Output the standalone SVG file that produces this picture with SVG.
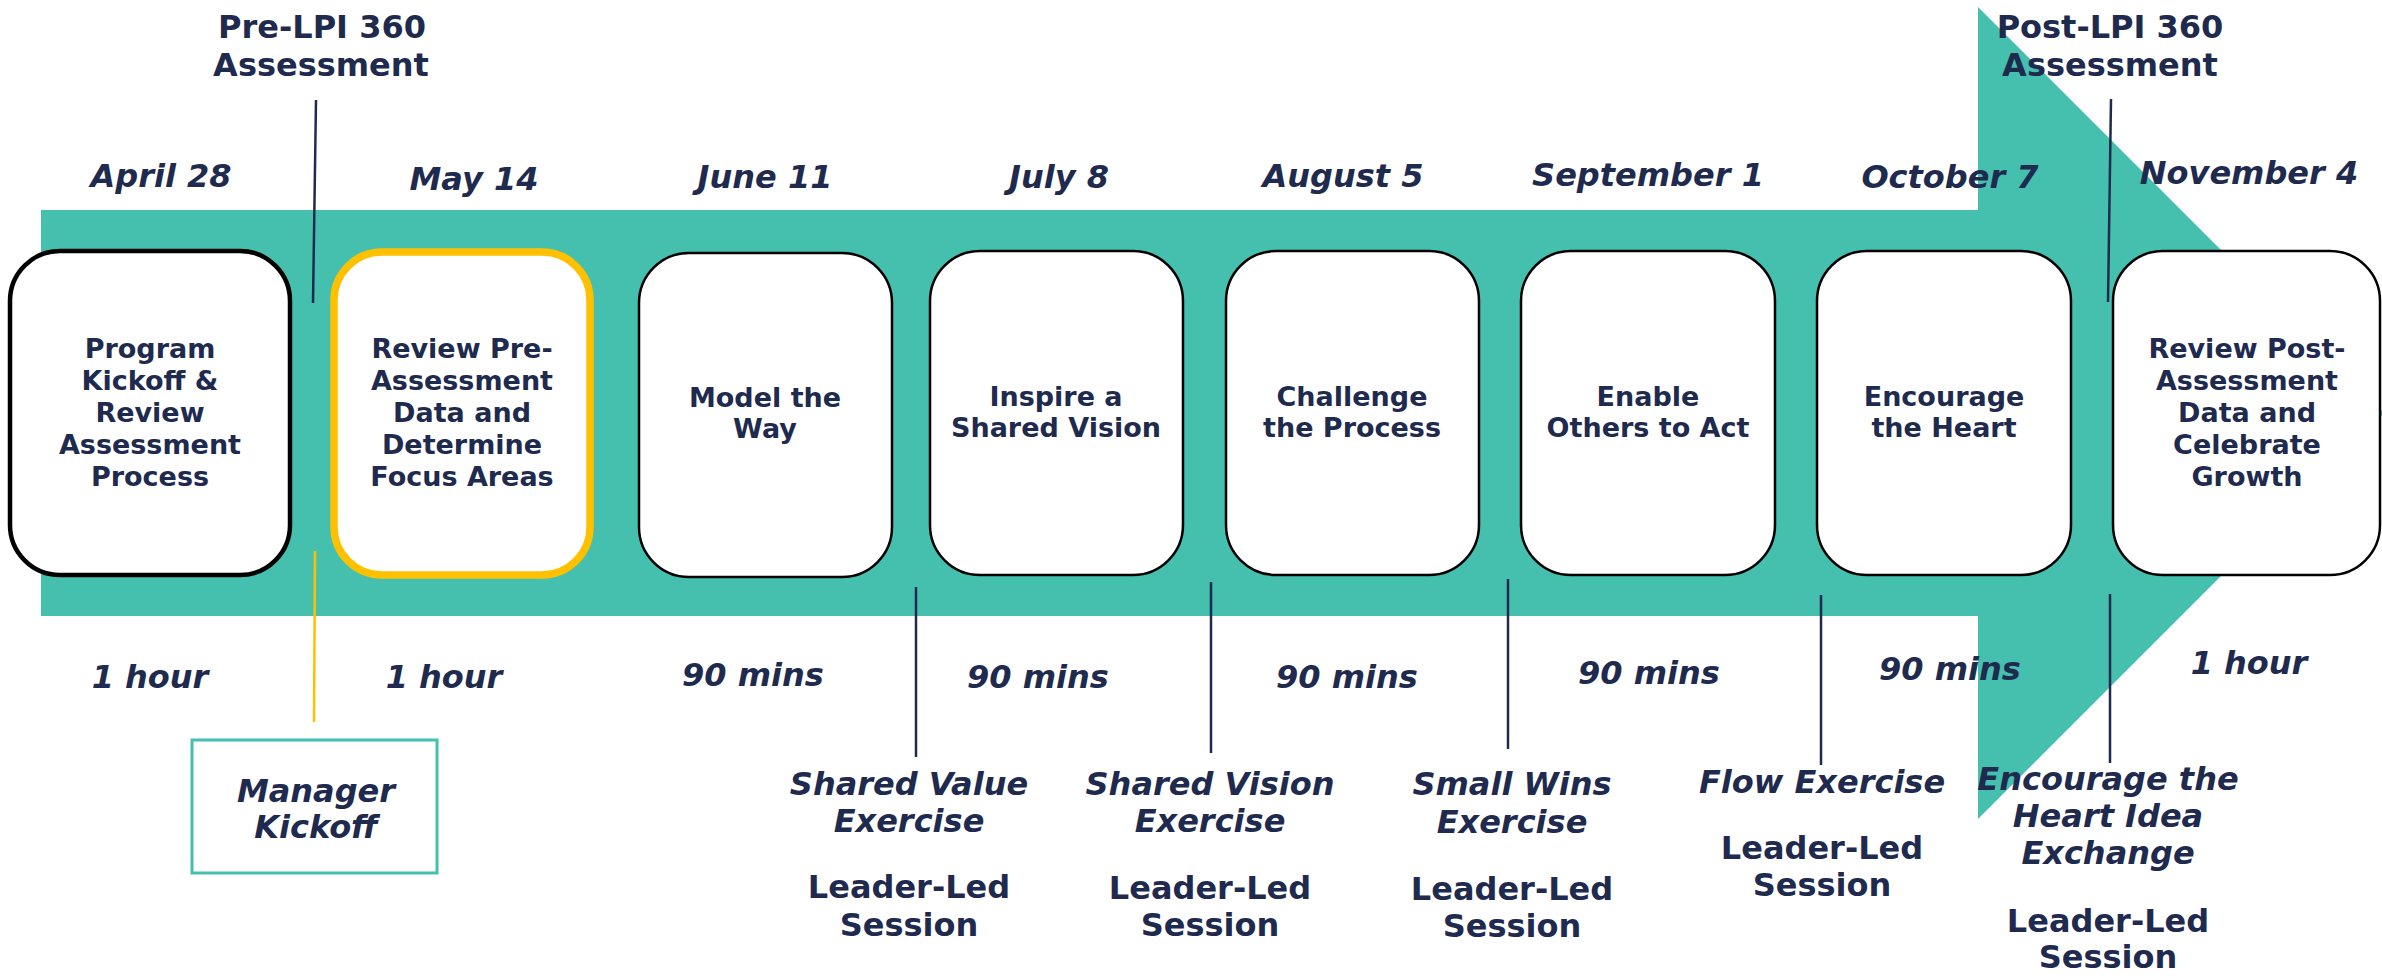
<svg xmlns="http://www.w3.org/2000/svg" width="2382" height="980" viewBox="0 0 2382 980">
<style>
.t{font-family:"DejaVu Sans","Liberation Sans",sans-serif;font-weight:bold;fill:#1F2A4F;text-anchor:middle}
.bx{font-size:27px}
.it{font-size:32px;font-style:italic}
.lb{font-size:32px}
.box{fill:#fff;stroke:#000;stroke-width:2.5}
.ln{stroke:#1F2A4F;stroke-width:2.5;fill:none}
</style>
<rect width="2382" height="980" fill="#fff"/>
<g id="arrow">
<polygon points="41,210 1978,210 1978,7 2384,413 1978,819 1978,616 41,616" fill="#45C0AE"/>
</g>
<g id="connectors">
<line class="ln" x1="316" y1="100" x2="313" y2="303"/>
<line x1="315" y1="551" x2="314" y2="722" stroke="#FFC000" stroke-width="2.5"/>
<line class="ln" x1="916" y1="587" x2="916" y2="757"/>
<line class="ln" x1="1211" y1="582" x2="1211" y2="753"/>
<line class="ln" x1="1508" y1="579" x2="1508" y2="749"/>
<line class="ln" x1="1821" y1="595" x2="1821" y2="765"/>
<line class="ln" x1="2110" y1="594" x2="2110" y2="763"/>
<line class="ln" x1="2111" y1="99" x2="2108" y2="302"/>
</g>
<g id="dates" class="t it">
<text x="161" y="187">April 28</text>
<text x="474" y="190">May 14</text>
<text x="765" y="188">June 11</text>
<text x="1059" y="188">July 8</text>
<text x="1343" y="187">August 5</text>
<text x="1648" y="186">September 1</text>
<text x="1950" y="188">October 7</text>
<text x="2249" y="184">November 4</text>
</g>
<g id="pre-lpi" class="t lb">
<text x="322" y="38">Pre-LPI 360</text>
<text x="321" y="76">Assessment</text>
</g>
<g id="post-lpi" class="t lb">
<text x="2110" y="38">Post-LPI 360</text>
<text x="2110" y="76">Assessment</text>
</g>
<g id="node1">
<rect x="10" y="251" width="280" height="324" rx="50" fill="#fff" stroke="#000" stroke-width="4.5"/>
<text class="t bx" x="150"><tspan x="150" y="358">Program</tspan><tspan x="150" y="390">Kickoff &amp;</tspan><tspan x="150" y="422">Review</tspan><tspan x="150" y="454">Assessment</tspan><tspan x="150" y="486">Process</tspan></text>
</g>
<g id="node2">
<rect x="334" y="252" width="256" height="323" rx="48" fill="#fff" stroke="#FFC000" stroke-width="7.5"/>
<text class="t bx"><tspan x="462" y="358">Review Pre-</tspan><tspan x="462" y="390">Assessment</tspan><tspan x="462" y="422">Data and</tspan><tspan x="462" y="454">Determine</tspan><tspan x="462" y="486">Focus Areas</tspan></text>
</g>
<g id="node3">
<rect class="box" x="639" y="253" width="253" height="324" rx="50"/>
<text class="t bx"><tspan x="765" y="407">Model the</tspan><tspan x="765" y="438">Way</tspan></text>
</g>
<g id="node4">
<rect class="box" x="930" y="251" width="253" height="324" rx="50"/>
<text class="t bx"><tspan x="1056" y="406">Inspire a</tspan><tspan x="1056" y="437">Shared Vision</tspan></text>
</g>
<g id="node5">
<rect class="box" x="1226" y="251" width="253" height="324" rx="50"/>
<text class="t bx"><tspan x="1352" y="406">Challenge</tspan><tspan x="1352" y="437">the Process</tspan></text>
</g>
<g id="node6">
<rect class="box" x="1521" y="251" width="254" height="324" rx="50"/>
<text class="t bx"><tspan x="1648" y="406">Enable</tspan><tspan x="1648" y="437">Others to Act</tspan></text>
</g>
<g id="node7">
<rect class="box" x="1817" y="251" width="254" height="324" rx="50"/>
<text class="t bx"><tspan x="1944" y="406">Encourage</tspan><tspan x="1944" y="437">the Heart</tspan></text>
</g>
<g id="node8">
<rect class="box" x="2113" y="251" width="267" height="324" rx="50"/>
<text class="t bx"><tspan x="2247" y="358">Review Post-</tspan><tspan x="2247" y="390">Assessment</tspan><tspan x="2247" y="422">Data and</tspan><tspan x="2247" y="454">Celebrate</tspan><tspan x="2247" y="486">Growth</tspan></text>
</g>
<g id="durations" class="t it">
<text x="150" y="688">1 hour</text>
<text x="444" y="688">1 hour</text>
<text x="753" y="686">90 mins</text>
<text x="1038" y="688">90 mins</text>
<text x="1347" y="688">90 mins</text>
<text x="1649" y="684">90 mins</text>
<text x="1950" y="680">90 mins</text>
<text x="2249" y="674">1 hour</text>
</g>
<g id="manager-kickoff">
<rect x="192" y="740" width="245" height="133" fill="#fff" stroke="#45C0AE" stroke-width="3"/>
<text class="t it"><tspan x="316" y="802">Manager</tspan><tspan x="316" y="838">Kickoff</tspan></text>
</g>
<g id="shared-value">
<text class="t it"><tspan x="909" y="795">Shared Value</tspan><tspan x="909" y="832">Exercise</tspan></text>
<text class="t lb"><tspan x="909" y="898">Leader-Led</tspan><tspan x="909" y="936">Session</tspan></text>
</g>
<g id="shared-vision">
<text class="t it"><tspan x="1210" y="795">Shared Vision</tspan><tspan x="1210" y="832">Exercise</tspan></text>
<text class="t lb"><tspan x="1210" y="899">Leader-Led</tspan><tspan x="1210" y="936">Session</tspan></text>
</g>
<g id="small-wins">
<text class="t it"><tspan x="1512" y="795">Small Wins</tspan><tspan x="1512" y="833">Exercise</tspan></text>
<text class="t lb"><tspan x="1512" y="900">Leader-Led</tspan><tspan x="1512" y="937">Session</tspan></text>
</g>
<g id="flow">
<text class="t it" x="1822" y="793">Flow Exercise</text>
<text class="t lb"><tspan x="1822" y="859">Leader-Led</tspan><tspan x="1822" y="896">Session</tspan></text>
</g>
<g id="idea-exchange">
<text class="t it"><tspan x="2108" y="790">Encourage the</tspan><tspan x="2108" y="827">Heart Idea</tspan><tspan x="2108" y="864">Exchange</tspan></text>
<text class="t lb"><tspan x="2108" y="932">Leader-Led</tspan><tspan x="2108" y="968">Session</tspan></text>
</g>
</svg>
